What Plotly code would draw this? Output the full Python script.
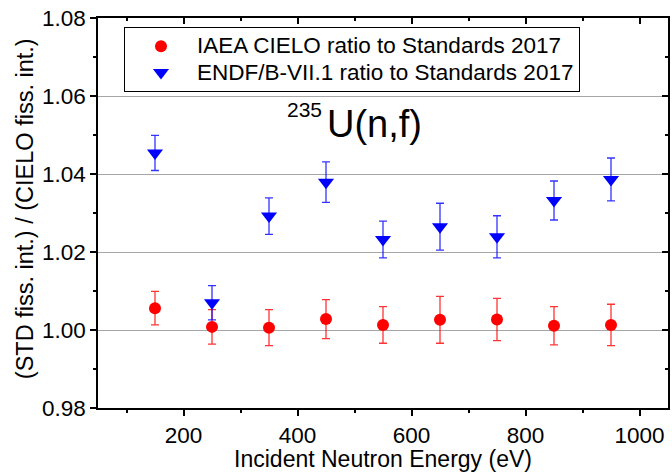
import plotly.graph_objects as go

# Incident neutron energy bins (eV)
energy = [150, 250, 350, 450, 550, 650, 750, 850, 950]

# IAEA CIELO ratio to Standards 2017
cielo_ratio = [1.0056, 1.0008, 1.0006, 1.0028, 1.0013, 1.0026, 1.0027, 1.0011, 1.0013]
cielo_err = [0.0043, 0.0044, 0.0046, 0.0050, 0.0047, 0.0060, 0.0054, 0.0049, 0.0053]

# ENDF/B-VII.1 ratio to Standards 2017
endf_ratio = [1.0454, 1.0070, 1.0292, 1.0379, 1.0232, 1.0265, 1.0239, 1.0332, 1.0386]
endf_err = [0.0045, 0.0044, 0.0047, 0.0052, 0.0047, 0.0060, 0.0054, 0.0050, 0.0055]

series_names = ["IAEA CIELO ratio to Standards 2017",
                "ENDF/B-VII.1 ratio to Standards 2017"]

x_range = [50, 1050]
y_range = [0.98, 1.08]

FONT = "Liberation Sans, Arial, sans-serif"


def legend_label(text):
    # larger glyphs inside a compact legend row
    return f"<span style='font-size:22.5px'>{text}</span>"


fig = go.Figure()

fig.add_trace(go.Scatter(
    x=energy, y=cielo_ratio, mode="markers",
    name=legend_label(series_names[0]),
    marker=dict(symbol="circle", size=12, color="#ff0000"),
    error_y=dict(type="data", array=cielo_err, visible=True,
                 color="rgba(255,0,0,0.8)", thickness=1.3, width=4),
))

fig.add_trace(go.Scatter(
    x=energy, y=endf_ratio, mode="markers",
    name=legend_label(series_names[1]),
    marker=dict(symbol="triangle-down", size=14, color="#0000ff"),
    error_y=dict(type="data", array=endf_err, visible=True,
                 color="rgba(0,0,255,0.8)", thickness=1.3, width=4),
))

# empty trace so the mirrored top/right frame axes get drawn
fig.add_trace(go.Scatter(x=[], y=[], xaxis="x2", yaxis="y2",
                         showlegend=False, hoverinfo="skip"))

axis_common = dict(showline=True, linecolor="black", linewidth=1.5,
                   tickcolor="black", tickwidth=1.5, zeroline=False)

fig.update_layout(
    width=672, height=472,
    margin=dict(l=98, r=4, t=18, b=64),
    paper_bgcolor="white", plot_bgcolor="white",
    font=dict(family=FONT, color="black"),
    showlegend=True,
    legend=dict(
        x=0.0456, y=0.977, xanchor="left", yanchor="top",
        bgcolor="white", bordercolor="black", borderwidth=1,
        font=dict(family=FONT, size=18, color="black"),
        itemwidth=62, tracegroupgap=0,
    ),
    xaxis=dict(
        range=x_range, tick0=0, dtick=200, ticks="outside", ticklen=6,
        minor=dict(dtick=100, ticks="outside", ticklen=3.5, tickwidth=1.5,
                   tickcolor="black"),
        showgrid=False,
        tickfont=dict(size=22.5),
        title=dict(text="Incident Neutron Energy (eV)", font=dict(size=23),
                   standoff=4),
        **axis_common,
    ),
    yaxis=dict(
        range=y_range, tick0=0.98, dtick=0.02, tickformat=".2f",
        ticks="outside", ticklen=6,
        minor=dict(dtick=0.01, ticks="outside", ticklen=3.5, tickwidth=1.5,
                   tickcolor="black"),
        showgrid=True, gridcolor="#a6a6a6", gridwidth=1.2,
        tickfont=dict(size=22.5),
        **axis_common,
    ),
    xaxis2=dict(
        overlaying="x", side="top", anchor="y", range=x_range,
        tick0=0, dtick=200, ticks="inside", ticklen=6,
        minor=dict(dtick=100, ticks="inside", ticklen=3.5, tickwidth=1.5,
                   tickcolor="black"),
        showticklabels=False, showgrid=False,
        **axis_common,
    ),
    yaxis2=dict(
        overlaying="y", side="right", anchor="x", range=y_range,
        tick0=0.98, dtick=0.02, ticks="inside", ticklen=6,
        minor=dict(dtick=0.01, ticks="inside", ticklen=3.5, tickwidth=1.5,
                   tickcolor="black"),
        showticklabels=False, showgrid=False,
        **axis_common,
    ),
)

# y-axis title, set as rotated text
fig.add_annotation(x=-0.128, y=0.510, xref="paper", yref="paper",
                   text="(STD fiss. int.) / (CIELO fiss. int.)", textangle=-90,
                   showarrow=False, xanchor="center", yanchor="middle",
                   font=dict(family=FONT, size=23.5, color="black"))

# reaction label: 235U(n,f)
fig.add_annotation(x=535, y=1.0528, xref="x", yref="y", text="U(n,f)",
                   showarrow=False, xanchor="center", yanchor="middle",
                   font=dict(family=FONT, size=38, color="black"))
fig.add_annotation(x=413, y=1.0566, xref="x", yref="y", text="235",
                   showarrow=False, xanchor="center", yanchor="middle",
                   font=dict(family=FONT, size=21, color="black"))

fig.write_html("out.html")
